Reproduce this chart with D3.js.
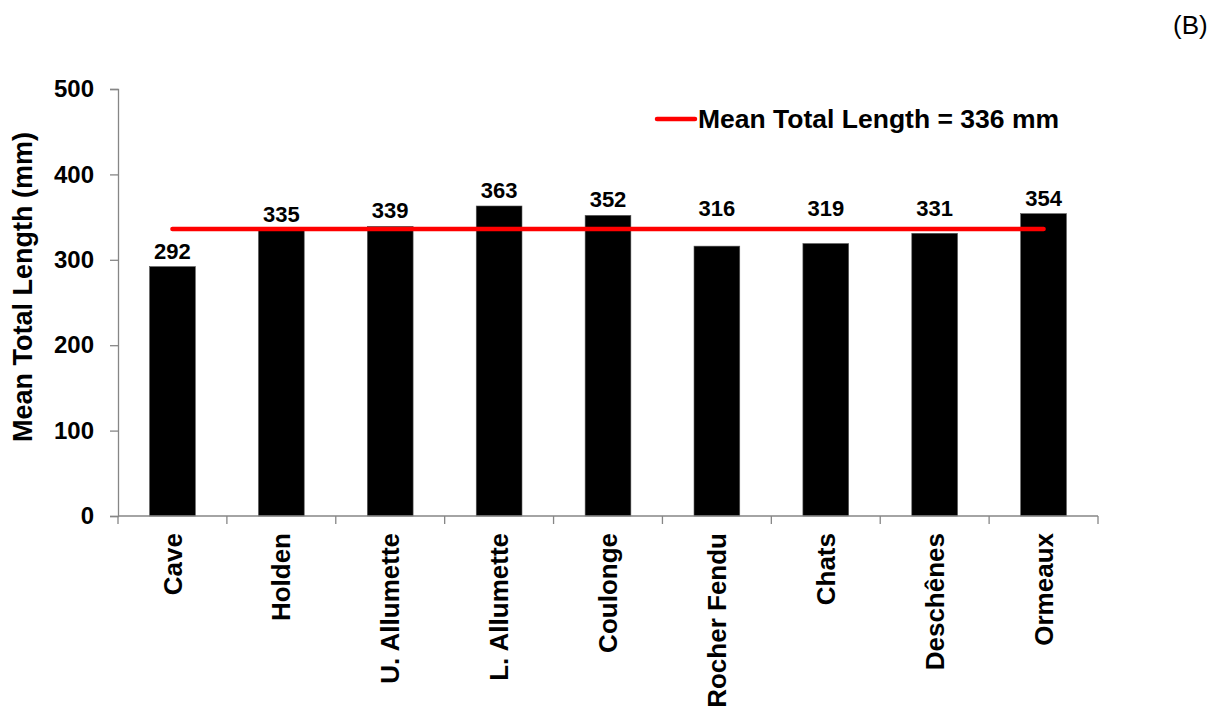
<!DOCTYPE html>
<html>
<head>
<meta charset="utf-8">
<script src="https://cdn.jsdelivr.net/npm/d3@7"></script>
<style>
  html, body { margin: 0; padding: 0; background: #fff; }
  svg { display: block; font-family: "Liberation Sans", Arial, sans-serif; }
</style>
</head>
<body>
<svg id="chart" width="1228" height="715"></svg>
<script>
// Sites and their mean total length (mm)
const sites = ["Cave", "Holden", "U. Allumette", "L. Allumette", "Coulonge",
               "Rocher Fendu", "Chats", "Deschênes", "Ormeaux"];
const meanLengths = [292, 335, 339, 363, 352, 316, 319, 331, 354];
const overallMean = 336;
const yTicks = [0, 100, 200, 300, 400, 500];
const yTitle = "Mean Total Length (mm)";
const legendLabel = "Mean Total Length = 336 mm";
const panelLabel = "(B)";

const svg = d3.select("#chart");
const plotLeft = 118, plotRight = 1098, plotTop = 89, plotBottom = 516;

const x = d3.scaleBand().domain(sites).range([plotLeft, plotRight]).paddingInner(0.58).paddingOuter(0.29);
const xTicks = d3.scaleBand().domain(sites).range([plotLeft, plotRight]);
const y = d3.scaleLinear().domain([0, 500]).range([plotBottom, plotTop]);

const axisColor = "#868686";

// Bars
svg.append("g").selectAll("rect").data(meanLengths).join("rect")
  .attr("x", (d, i) => x(sites[i]))
  .attr("width", x.bandwidth())
  .attr("y", d => y(d))
  .attr("height", d => y(0) - y(d))
  .attr("fill", "#000")
  .attr("stroke", "#555")
  .attr("stroke-width", 0.6);

// Y axis
const yAxis = svg.append("g").attr("transform", `translate(${plotLeft},0)`)
  .call(d3.axisLeft(y).tickValues(yTicks).tickSize(8).tickPadding(16));
yAxis.select(".domain").attr("stroke", axisColor).attr("stroke-width", 1.3);
yAxis.selectAll(".tick line").attr("stroke", axisColor).attr("stroke-width", 1.3);
yAxis.selectAll(".tick text").attr("font-size", 24).attr("font-weight", "bold")
  .attr("fill", "#000").attr("font-family", "Liberation Sans, Arial, sans-serif");

// X axis: ticks on band boundaries, labels rotated
const xAxisG = svg.append("g").attr("transform", `translate(0,${plotBottom})`);
xAxisG.append("line").attr("x1", plotLeft).attr("x2", plotRight)
  .attr("stroke", axisColor).attr("stroke-width", 1.3);
const boundaries = sites.map(s => xTicks(s)).concat([plotRight]);
xAxisG.selectAll("line.tk").data(boundaries).join("line").attr("class", "tk")
  .attr("x1", d => d).attr("x2", d => d).attr("y1", 0).attr("y2", 8)
  .attr("stroke", axisColor).attr("stroke-width", 1.3);
xAxisG.selectAll("text").data(sites).join("text")
  .attr("transform", d => `translate(${x(d) + x.bandwidth() / 2},17) rotate(-90)`)
  .attr("text-anchor", "end")
  .attr("dy", "0.35em")
  .attr("font-size", 26).attr("font-weight", "bold")
  .text(d => d);

// Mean line across bar centres
const meanY = y(overallMean);
svg.append("line")
  .attr("x1", x(sites[0]) + x.bandwidth() / 2)
  .attr("x2", x(sites[sites.length - 1]) + x.bandwidth() / 2)
  .attr("y1", meanY).attr("y2", meanY)
  .attr("stroke", "#ff0000").attr("stroke-width", 4.5).attr("stroke-linecap", "round");

// Value labels, lifted above the mean line where they would collide with it
svg.append("g").selectAll("text").data(meanLengths).join("text")
  .attr("x", (d, i) => x(sites[i]) + x.bandwidth() / 2)
  .attr("y", d => {
    const base = y(d) - 8;
    const capTop = base - 16;
    if (base > meanY - 5 && capTop < meanY + 3) return meanY - 13;
    return base;
  })
  .attr("text-anchor", "middle")
  .attr("font-size", 22).attr("font-weight", "bold")
  .text(d => d);

// Y axis title
svg.append("text")
  .attr("transform", `translate(32,287) rotate(-90)`)
  .attr("text-anchor", "middle")
  .attr("font-size", 27).attr("font-weight", "bold")
  .text(yTitle);

// Legend
svg.append("line").attr("x1", 657).attr("x2", 695).attr("y1", 119).attr("y2", 119)
  .attr("stroke", "#ff0000").attr("stroke-width", 4.5).attr("stroke-linecap", "round");
svg.append("text").attr("x", 698).attr("y", 128)
  .attr("font-size", 26.5).attr("font-weight", "bold")
  .text(legendLabel);

// Panel label
svg.append("text").attr("x", 1173).attr("y", 34)
  .attr("font-size", 26)
  .text(panelLabel);
</script>
</body>
</html>
